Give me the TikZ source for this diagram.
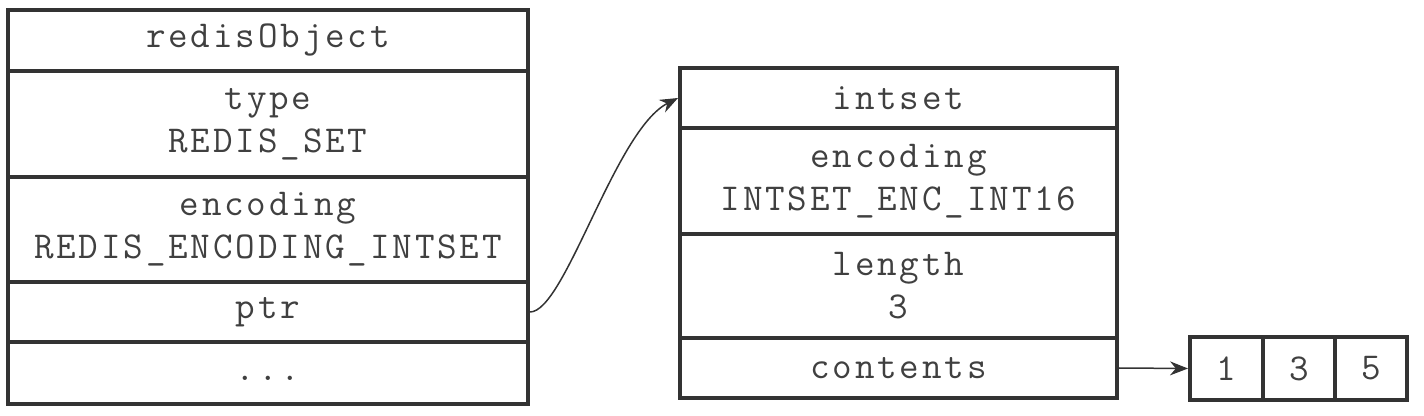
\documentclass[tikz,border=0pt]{standalone}
\usepackage{fontspec}
\setmonofont{Latin Modern Mono}[LetterSpace=7.5]
\usetikzlibrary{arrows.meta}
\definecolor{ink}{HTML}{333333}
\definecolor{txt}{HTML}{404040}
\begin{document}
\begin{tikzpicture}[x=0.5pt,y=-0.5pt,
  cell/.style={draw=ink,line width=2pt,inner sep=0pt,align=center,text=txt,
    font=\ttfamily\fontsize{19}{21.5}\selectfont},
  link/.style={draw=ink,line width=0.75pt,-{Stealth[length=9pt,width=7pt]}}]
\useasboundingbox (0,0) rectangle (1424,416);
% redisObject
\node[cell,minimum width=260pt,minimum height=30.5pt] (r1) at (268,40.5) {redisObject};
\node[cell,minimum width=260pt,minimum height=53pt] (r2) at (268,124) {type\\REDIS\_SET};
\node[cell,minimum width=260pt,minimum height=52.5pt] (r3) at (268,229.5) {encoding\\REDIS\_ENCODING\_INTSET};
\node[cell,minimum width=260pt,minimum height=30pt] (r4) at (268,312) {ptr};
\node[cell,minimum width=260pt,minimum height=31pt] (r5) at (268,373) {\raisebox{-4pt}[0pt][0pt]{...}};
% intset
\node[cell,minimum width=218.5pt,minimum height=30pt] (m1) at (898.5,98) {intset};
\node[cell,minimum width=218.5pt,minimum height=53pt] (m2) at (898.5,181) {encoding\\INTSET\_ENC\_INT16};
\node[cell,minimum width=218.5pt,minimum height=52pt] (m3) at (898.5,286) {length\\3};
\node[cell,minimum width=218.5pt,minimum height=30pt] (m4) at (898.5,368) {contents};
% array
\node[cell,minimum width=36.5pt,minimum height=31.5pt] (a1) at (1226.5,368.5) {1};
\node[cell,minimum width=36pt,minimum height=31.5pt] (a2) at (1299,368.5) {3};
\node[cell,minimum width=36pt,minimum height=31.5pt] (a3) at (1371,368.5) {5};
% connectors
\draw[link] (r4.east) .. controls (565,312) and (615,130) .. (m1.west);
\draw[link] (m4.east) -- (a1.west);
\end{tikzpicture}
\end{document}
